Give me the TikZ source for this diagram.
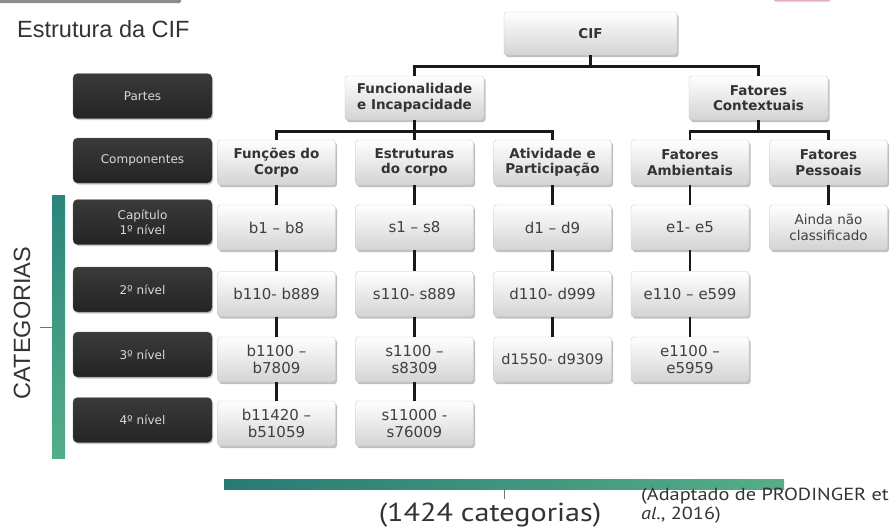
\documentclass[tikz,border=0pt]{standalone}
\usepackage{fontspec}
\setmainfont{DejaVu Sans}
\newfontfamily\titlefont{Liberation Sans}
\newfontfamily\notefont[FakeStretch=1.16]{PT Sans}
\usetikzlibrary{shadows}

\definecolor{ink}{HTML}{333333}
\definecolor{darkbox}{HTML}{242424}
\definecolor{darkboxtop}{HTML}{3A3A3A}
\definecolor{tealA}{HTML}{2B857C}
\definecolor{tealB}{HTML}{55AE88}
\definecolor{blush}{HTML}{E7AFBE}

\tikzset{
  lightbox/.style={rectangle, rounded corners=3pt, draw=black!22, line width=.4pt,
    top color=white, bottom color=black!17, minimum width=118pt, minimum height=45pt,
    inner sep=1pt, align=center, text=black!75,
    drop shadow={shadow xshift=1.5pt, shadow yshift=-2.2pt, opacity=.45, fill=black!55}},
  headbox/.style={lightbox, font=\bfseries\fontsize{13.5}{15.5}\selectfont, text=black!80},
  codebox/.style={lightbox, font=\fontsize{15}{17}\selectfont},
  labelbox/.style={rectangle, rounded corners=4.5pt, top color=darkboxtop, bottom color=darkbox,
    draw=black!60, line width=.3pt, minimum width=139pt, minimum height=45pt,
    inner sep=1pt, align=center, text=white!85!black,
    font=\fontsize{12}{15}\selectfont,
    drop shadow={shadow xshift=1.2pt, shadow yshift=-1.6pt, opacity=.35, fill=black!60}},
  conn/.style={line width=2.8pt, draw=black!90, line join=miter},
  tick/.style={line width=.6pt, draw=black!55}
}

\begin{document}
\begin{tikzpicture}[x=1pt, y=-1pt]
\useasboundingbox (0,0) rectangle (891,528);

% slide decorations at the top edge
\fill[black!45, rounded corners=1.5pt] (-5,-4) rectangle (181,3);
\fill[blush, rounded corners=1pt] (774,-6) rectangle (830,1.5);

% title
\node[anchor=base west, inner sep=0, font=\titlefont\fontsize{23.5}{26}\selectfont, text=ink]
  (title) at (17,37) {Estrutura da CIF};

% row labels on the left
\node[labelbox] (lpartes) at (142.5,96)    {Partes};
\node[labelbox] (lcomp)   at (142.5,160.5) {Componentes};
\node[labelbox] (lcap)    at (142.5,222)   {Capítulo\\1º nível};
\node[labelbox] (lniv2)   at (142.5,289.5) {2º nível};
\node[labelbox] (lniv3)   at (142.5,354.5) {3º nível};
\node[labelbox] (lniv4)   at (142.5,420)   {4º nível};

% categories bracket
\shade[top color=tealA, bottom color=tealB] (52,195) rectangle (65,458);
\coordinate (catbar) at (52,327);
\coordinate (catend) at (40,327);
\draw[tick] (catend) -- (catbar);
\node[rotate=90, inner sep=0, font=\titlefont\fontsize{23.5}{26}\selectfont, text=ink]
  (categorias) at (22,323) {CATEGORIAS};

% hierarchy
\node[headbox, minimum width=173pt, minimum height=43pt] (cif) at (590.5,33.5) {CIF};
\node[headbox, minimum width=139pt, minimum height=44pt] (func) at (414.5,98) {Funcionalidade\\e Incapacidade};
\node[headbox, minimum width=139pt, minimum height=44pt] (ctx)  at (758.5,98) {Fatores\\Contextuais};

\node[headbox] (c1) at (276.5,162.5) {Funções do\\Corpo};
\node[headbox] (c2) at (414.5,162.5) {Estruturas\\do corpo};
\node[headbox] (c3) at (552.5,162.5) {Atividade e\\Participação};
\node[headbox] (c4) at (690,162.5)   {Fatores\\Ambientais};
\node[headbox] (c5) at (828.5,162.5) {Fatores\\Pessoais};

\node[codebox] (b1) at (276.5,227.5) {b1 – b8};
\node[codebox] (s1) at (414.5,227.5) {s1 – s8};
\node[codebox] (d1) at (552.5,227.5) {d1 – d9};
\node[codebox] (e1) at (690,227.5)   {e1- e5};
\node[codebox, font=\fontsize{13.5}{15.5}\selectfont] (p1) at (828.5,227.5) {Ainda não\\classificado};

\node[codebox] (b2) at (276.5,294) {b110- b889};
\node[codebox] (s2) at (414.5,294) {s110- s889};
\node[codebox] (d2) at (552.5,294) {d110- d999};
\node[codebox] (e2) at (690,294)   {e110 – e599};

\node[codebox] (b3) at (276.5,359.5) {b1100 –\\b7809};
\node[codebox] (s3) at (414.5,359.5) {s1100 –\\s8309};
\node[codebox, font=\fontsize{14.5}{17}\selectfont] (d3) at (552.5,359.5) {d1550- d9309};
\node[codebox] (e3) at (690,359.5)   {e1100 –\\e5959};

\node[codebox] (b4) at (276.5,423.5) {b11420 –\\b51059};
\node[codebox] (s4) at (414.5,423.5) {s11000 -\\s76009};

% connectors
\draw[conn] (cif.south) -- ++(0,11) -| (func.north);
\draw[conn] (cif.south) -- ++(0,11) -| (ctx.north);
\draw[conn] (func.south) -- ++(0,11) -| (c1.north);
\draw[conn] (func.south) -- ++(0,11) -| (c3.north);
\draw[conn] (func.south) -- (c2.north);
\draw[conn] (ctx.south) -- ++(0,11) -| (c4.north);
\draw[conn] (ctx.south) -- ++(0,11) -| (c5.north);

\draw[conn] (c1) -- (b1) -- (b2) -- (b3) -- (b4);
\draw[conn] (c2) -- (s1) -- (s2) -- (s3) -- (s4);
\draw[conn] (c3) -- (d1) -- (d2) -- (d3);
\draw[conn] (c4) -- (e1) -- (e2) -- (e3);
\draw[conn] (c5) -- (p1);

% total bar
\shade[left color=tealA!92!black, right color=tealB] (224,479) rectangle (784,489);
\coordinate (totbar) at (504,489);
\coordinate (totend) at (504,499);
\draw[tick] (totbar) -- (totend);
\node[anchor=base, inner sep=0, font=\notefont\fontsize{26}{28}\selectfont, text=ink]
  (total) at (490,521) {(1424 categorias)};
\node[anchor=north west, inner sep=0, align=left, font=\notefont\fontsize{17.5}{19}\selectfont, text=ink]
  (fonte) at (641,488) {(Adaptado de PRODINGER et\\\textit{al.}, 2016)};
\end{tikzpicture}
\end{document}
